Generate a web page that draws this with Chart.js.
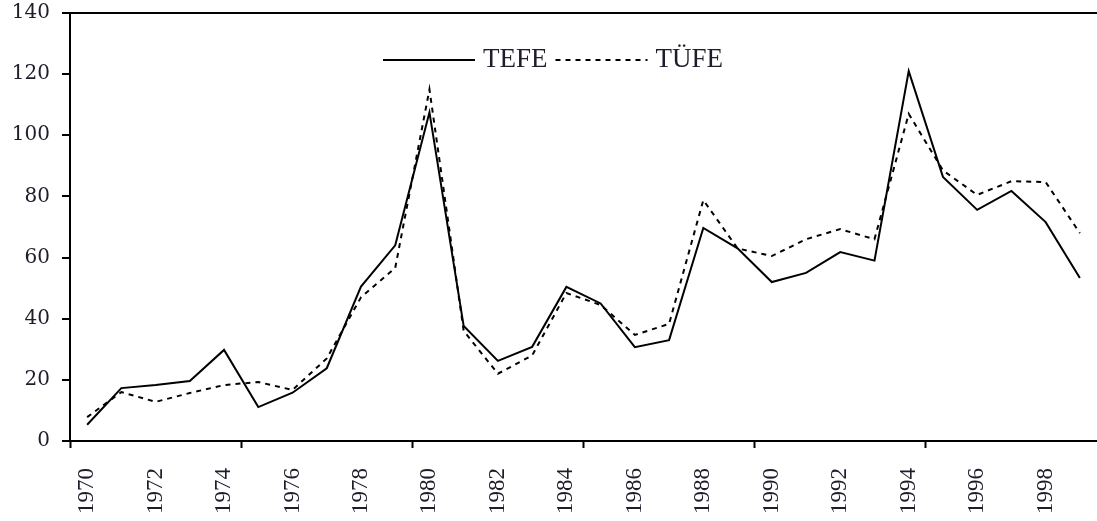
<!DOCTYPE html>
<html>
<head>
<meta charset="utf-8">
<script src="https://cdn.jsdelivr.net/npm/chart.js@4.4.0/dist/chart.umd.min.js"></script>
<style>
    html, body { margin: 0; padding: 0; background: #ffffff; }
    #wrap { position: relative; width: 1097px; height: 521px; overflow: hidden; }
</style>
</head>
<body>
<div id="wrap"><canvas id="chart"></canvas></div>
<script>
const years = ['1970', '1971', '1972', '1973', '1974', '1975', '1976', '1977', '1978', '1979',
    '1980', '1981', '1982', '1983', '1984', '1985', '1986', '1987', '1988', '1989',
    '1990', '1991', '1992', '1993', '1994', '1995', '1996', '1997', '1998', '1999'];

const tefe = [5.3, 17.3, 18.3, 19.6, 29.8, 11.1, 15.8, 23.8, 50.5, 64,
    107.5, 37.6, 26.2, 30.8, 50.4, 45, 30.7, 33, 69.7, 63,
    52, 55, 61.8, 59, 121, 86.4, 75.6, 81.8, 71.6, 53.3];

const tufe = [7.8, 16, 12.8, 15.7, 18.3, 19.3, 16.7, 27, 47, 56.6,
    115, 36, 22, 28, 48.4, 44.5, 34.7, 38.3, 78.8, 63,
    60.5, 66, 69.3, 66, 107, 88.5, 80.5, 85, 84.7, 68];

const yTickValues = [0, 20, 40, 60, 80, 100, 120, 140];

const ink = '#1d1d2b';
const serif = "'Liberation Serif', 'Times New Roman', serif";
const wideSerif = "'DejaVu Serif', serif";

// legend drawn inside the plot area, like the original figure
const inlineLegend = {
    id: 'inlineLegend',
    afterDraw(chart, args, opts) {
        const ctx = chart.ctx;
        ctx.save();
        ctx.font = opts.font;
        ctx.fillStyle = opts.color;
        ctx.textBaseline = 'middle';
        let x = opts.x;
        chart.data.datasets.forEach((ds) => {
            ctx.strokeStyle = ds.borderColor;
            ctx.lineWidth = ds.borderWidth;
            ctx.setLineDash(ds.borderDash || []);
            ctx.beginPath();
            ctx.moveTo(x, opts.y);
            ctx.lineTo(x + opts.lineLength, opts.y);
            ctx.stroke();
            x += opts.lineLength + opts.gap;
            ctx.fillText(ds.label, x, opts.y);
            x += ctx.measureText(ds.label).width + opts.spacing;
        });
        ctx.restore();
    },
};

new Chart(document.getElementById('chart'), {
    type: 'line',
    data: {
        labels: years,
        datasets: [
            {
                label: 'TEFE',
                data: tefe,
                borderColor: '#000000',
                borderWidth: 2,
                pointRadius: 0,
                tension: 0,
            },
            {
                label: 'TÜFE',
                data: tufe,
                borderColor: '#000000',
                borderWidth: 2,
                borderDash: [5, 5],
                pointRadius: 0,
                tension: 0,
            },
        ],
    },
    options: {
        responsive: true,
        maintainAspectRatio: false,
        animation: false,
        layout: { padding: { top: 13, right: -6, bottom: 0, left: 0 } },
        plugins: {
            legend: { display: false },
            tooltip: { enabled: false },
            inlineLegend: {
                x: 383,
                y: 60,
                lineLength: 92,
                gap: 8,
                spacing: 8,
                font: '27px ' + serif,
                color: ink,
            },
        },
        scales: {
            x: {
                offset: true,
                afterFit: (scale) => {
                    scale.height = 80;
                    scale.paddingLeft = 0;
                    scale.paddingRight = 0;
                },
                border: { display: true, color: '#000000', width: 2 },
                grid: {
                    offset: true,
                    drawOnChartArea: false,
                    tickLength: 7,
                    tickWidth: 2,
                    tickColor: (c) => (c.index % 5 === 0 ? '#000000' : 'rgba(0,0,0,0)'),
                },
                ticks: {
                    autoSkip: false,
                    minRotation: 90,
                    maxRotation: 90,
                    padding: 20,
                    color: ink,
                    font: { family: serif, size: 23 },
                    callback: function (value, index) {
                        return index % 2 === 0 ? this.getLabelForValue(value) : '';
                    },
                },
            },
            y: {
                min: 0,
                max: 140,
                afterBuildTicks: (scale) => { scale.ticks = yTickValues.map((v) => ({ value: v })); },
                afterFit: (scale) => {
                    scale.width = 70;
                    scale.paddingTop = 0;
                    scale.paddingBottom = 0;
                },
                border: { display: true, color: '#000000', width: 2 },
                grid: {
                    lineWidth: 2,
                    color: (c) => (c.tick && c.tick.value === 140 ? '#000000' : 'rgba(0,0,0,0)'),
                    tickLength: 8,
                    tickWidth: 2,
                    tickColor: '#000000',
                },
                ticks: {
                    padding: 12,
                    color: ink,
                    font: { family: wideSerif, size: 20 },
                },
            },
        },
    },
    plugins: [inlineLegend],
});
</script>
</body>
</html>
